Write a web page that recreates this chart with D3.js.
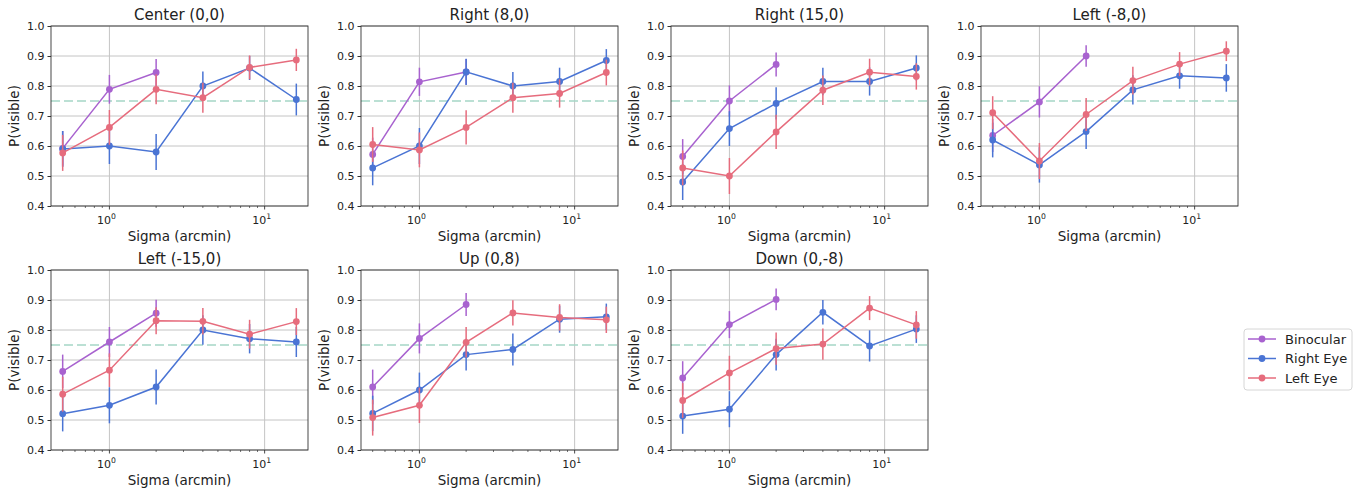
<!DOCTYPE html>
<html>
<head>
<meta charset="utf-8">
<script src="https://cdn.jsdelivr.net/npm/d3@7"></script>
<style>
    body { margin: 0; background: #fff; }
    text { font-family: "DejaVu Sans", sans-serif; fill: #222; }
</style>
</head>
<body>
<svg id="chart" width="1356" height="488"></svg>
<script>
// stimulus widths (arcmin) used on the x axis
var sigmas = [0.5, 1, 2, 4, 8, 16];
var panel_titles = ["Center (0,0)", "Right (8,0)", "Right (15,0)", "Left (-8,0)",
    "Left (-15,0)", "Up (0,8)", "Down (0,-8)"];
var y_ticks = [0.4, 0.5, 0.6, 0.7, 0.8, 0.9, 1.0];
var series_names = ["Binocular", "Right Eye", "Left Eye"];
var series_colors = ["#a862cf", "#4a74d4", "#e66c7d"];

// one row per panel; binocular was only run at the three smallest sigmas
var binocular = [
    [0.592, 0.789, 0.845],
    [0.572, 0.814, 0.847],
    [0.565, 0.750, 0.872],
    [0.635, 0.747, 0.900],
    [0.662, 0.760, 0.856],
    [0.610, 0.772, 0.885],
    [0.640, 0.818, 0.902]
];
var binocular_err = [
    [0.058, 0.048, 0.045],
    [0.056, 0.047, 0.043],
    [0.058, 0.052, 0.040],
    [0.055, 0.052, 0.036],
    [0.056, 0.050, 0.045],
    [0.058, 0.050, 0.038],
    [0.056, 0.045, 0.036]
];
var right_eye = [
    [0.590, 0.600, 0.580, 0.800, 0.860, 0.755],
    [0.527, 0.600, 0.847, 0.800, 0.815, 0.885],
    [0.480, 0.658, 0.742, 0.815, 0.815, 0.860],
    [0.620, 0.537, 0.648, 0.787, 0.834, 0.827],
    [0.521, 0.549, 0.610, 0.800, 0.771, 0.760],
    [0.522, 0.600, 0.718, 0.735, 0.836, 0.844],
    [0.513, 0.536, 0.718, 0.859, 0.747, 0.803]
];
var right_eye_err = [
    [0.060, 0.060, 0.060, 0.048, 0.040, 0.053],
    [0.058, 0.060, 0.044, 0.047, 0.046, 0.038],
    [0.060, 0.058, 0.054, 0.046, 0.047, 0.042],
    [0.058, 0.059, 0.058, 0.049, 0.043, 0.046],
    [0.059, 0.060, 0.058, 0.049, 0.049, 0.050],
    [0.059, 0.058, 0.053, 0.053, 0.045, 0.044],
    [0.059, 0.060, 0.053, 0.041, 0.052, 0.046]
];
var left_eye = [
    [0.577, 0.662, 0.789, 0.761, 0.862, 0.887],
    [0.605, 0.587, 0.662, 0.761, 0.775, 0.845],
    [0.527, 0.500, 0.647, 0.786, 0.846, 0.832],
    [0.711, 0.550, 0.705, 0.818, 0.873, 0.916],
    [0.586, 0.666, 0.831, 0.829, 0.786, 0.828],
    [0.508, 0.549, 0.759, 0.857, 0.842, 0.834],
    [0.565, 0.657, 0.738, 0.753, 0.873, 0.817]
];
var left_eye_err = [
    [0.060, 0.058, 0.050, 0.050, 0.040, 0.037],
    [0.058, 0.058, 0.057, 0.050, 0.047, 0.043],
    [0.058, 0.060, 0.057, 0.049, 0.045, 0.044],
    [0.055, 0.060, 0.055, 0.046, 0.040, 0.033],
    [0.058, 0.056, 0.045, 0.044, 0.048, 0.045],
    [0.060, 0.059, 0.051, 0.042, 0.044, 0.044],
    [0.058, 0.057, 0.054, 0.052, 0.040, 0.046]
];
var threshold = 0.75;

var plot_w = 257, plot_h = 180;
var col_step = 310;
var row_tops = [26, 270];
var first_left = 51;

var svg = d3.select("#chart");

// matplotlib-style log axis padding: 5% of the decade span on each side
var lo = Math.log10(sigmas[0]), hi = Math.log10(sigmas[sigmas.length - 1]);
var pad = (hi - lo) * 0.05;
var x = d3.scaleLog().domain([Math.pow(10, lo - pad), Math.pow(10, hi + pad)]).range([0, plot_w]);
var y = d3.scaleLinear().domain([0.4, 1.0]).range([plot_h, 0]);

function draw_series(g, xs, ys, errs, color) {
    var pts = ys.map(function (v, i) { return {x: xs[i], y: v, e: errs[i]}; });
    var s = g.append("g");
    s.selectAll("line.err").data(pts).enter().append("line")
        .attr("class", "err")
        .attr("x1", function (d) { return x(d.x); })
        .attr("x2", function (d) { return x(d.x); })
        .attr("y1", function (d) { return y(d.y - d.e); })
        .attr("y2", function (d) { return y(d.y + d.e); })
        .attr("stroke", color).attr("stroke-width", 1.5);
    s.append("path").datum(pts)
        .attr("d", d3.line().x(function (d) { return x(d.x); }).y(function (d) { return y(d.y); }))
        .attr("fill", "none").attr("stroke", color).attr("stroke-width", 1.5);
    s.selectAll("circle").data(pts).enter().append("circle")
        .attr("cx", function (d) { return x(d.x); })
        .attr("cy", function (d) { return y(d.y); })
        .attr("r", 3.4).attr("fill", color);
}

function draw_panel(idx) {
    var col = idx % 4, row = Math.floor(idx / 4);
    var g = svg.append("g")
        .attr("transform", "translate(" + (first_left + col * col_step) + "," + row_tops[row] + ")");

    // grid
    g.selectAll("line.hgrid").data(y_ticks).enter().append("line")
        .attr("x1", 0).attr("x2", plot_w)
        .attr("y1", function (d) { return y(d); }).attr("y2", function (d) { return y(d); })
        .attr("stroke", "#c4c4c4").attr("stroke-width", 1);
    g.selectAll("line.vgrid").data([1, 10]).enter().append("line")
        .attr("x1", function (d) { return x(d); }).attr("x2", function (d) { return x(d); })
        .attr("y1", 0).attr("y2", plot_h)
        .attr("stroke", "#c4c4c4").attr("stroke-width", 1);

    // 75% threshold
    g.append("line")
        .attr("x1", 0).attr("x2", plot_w)
        .attr("y1", y(threshold)).attr("y2", y(threshold))
        .attr("stroke", "#a5d6c6").attr("stroke-width", 1.6)
        .attr("stroke-dasharray", "9,4");

    var short_sig = sigmas.slice(0, binocular[idx].length);
    draw_series(g, short_sig, binocular[idx], binocular_err[idx], series_colors[0]);
    draw_series(g, sigmas, right_eye[idx], right_eye_err[idx], series_colors[1]);
    draw_series(g, sigmas, left_eye[idx], left_eye_err[idx], series_colors[2]);

    // frame
    g.append("rect").attr("width", plot_w).attr("height", plot_h)
        .attr("fill", "none").attr("stroke", "#333").attr("stroke-width", 0.9);

    // y axis
    var ya = g.append("g").call(d3.axisLeft(y).tickValues(y_ticks).tickSize(3.5).tickPadding(3)
        .tickFormat(d3.format(".1f")));
    ya.select(".domain").remove();
    ya.selectAll("text").style("font-size", "11px").attr("fill", "#222");
    ya.selectAll("line").attr("stroke", "#333");

    // x axis, major + minor ticks
    var xa = g.append("g").attr("transform", "translate(0," + plot_h + ")");
    var minors = [0.5, 0.6, 0.7, 0.8, 0.9, 2, 3, 4, 5, 6, 7, 8, 9];
    xa.selectAll("line.minor").data(minors).enter().append("line")
        .attr("x1", function (d) { return x(d); }).attr("x2", function (d) { return x(d); })
        .attr("y1", 0).attr("y2", 2).attr("stroke", "#333").attr("stroke-width", 0.7);
    xa.selectAll("line.major").data([1, 10]).enter().append("line")
        .attr("x1", function (d) { return x(d); }).attr("x2", function (d) { return x(d); })
        .attr("y1", 0).attr("y2", 3.5).attr("stroke", "#333").attr("stroke-width", 0.9);
    var lbl = xa.selectAll("text.major").data([0, 1]).enter().append("text")
        .attr("x", function (d) { return x(Math.pow(10, d)) - 3; })
        .attr("y", 17.5).attr("text-anchor", "middle").style("font-size", "11px");
    lbl.append("tspan").text("10");
    lbl.append("tspan").attr("dy", -5).style("font-size", "7.7px").text(function (d) { return d; });

    // labels and title
    g.append("text").attr("x", plot_w / 2).attr("y", plot_h + 35).attr("text-anchor", "middle")
        .style("font-size", "13.5px").text("Sigma (arcmin)");
    g.append("text").attr("transform", "translate(-32," + (plot_h / 2) + ") rotate(-90)")
        .attr("text-anchor", "middle").style("font-size", "13.5px").text("P(visible)");
    g.append("text").attr("x", plot_w / 2).attr("y", -6).attr("text-anchor", "middle")
        .style("font-size", "15px").text(panel_titles[idx]);
}

for (var i = 0; i < panel_titles.length; i++) draw_panel(i);

// legend, sits at the right edge level with the bottom row
var leg = svg.append("g").attr("transform", "translate(1244,329)");
leg.append("rect").attr("width", 108).attr("height", 61).attr("rx", 3)
    .attr("fill", "#fff").attr("stroke", "#d6d6d6");
series_names.forEach(function (name, i) {
    var ly = 10 + i * 19.5;
    leg.append("line").attr("x1", 4).attr("x2", 32).attr("y1", ly).attr("y2", ly)
        .attr("stroke", series_colors[i]).attr("stroke-width", 1.5);
    leg.append("circle").attr("cx", 18).attr("cy", ly).attr("r", 3.4).attr("fill", series_colors[i]);
    leg.append("text").attr("x", 41).attr("y", ly + 4.5).style("font-size", "13px").text(name);
});
</script>
</body>
</html>
